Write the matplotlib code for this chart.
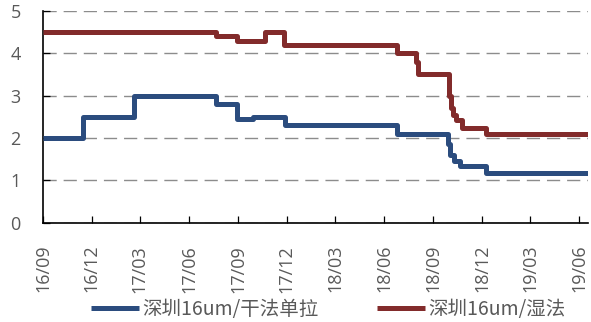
import matplotlib
matplotlib.use("Agg")
import matplotlib.pyplot as plt
import matplotlib.dates as mdates
import pandas as pd

# Price change points (date of change, new price); each level holds until the next change
dry_dates = ["2016-09-01", "2016-11-15", "2017-02-19", "2017-07-22", "2017-08-30",
             "2017-09-29", "2017-11-27", "2018-06-25", "2018-09-29", "2018-10-02",
             "2018-10-09", "2018-10-20", "2018-12-08", "2019-06-17"]
dry_values = [2.0, 2.5, 3.0, 2.8, 2.45, 2.5, 2.3, 2.1, 1.85, 1.6, 1.46, 1.34, 1.17, 1.17]

wet_dates = ["2016-09-01", "2017-07-22", "2017-08-30", "2017-10-21", "2017-11-26",
             "2018-06-25", "2018-07-30", "2018-08-03", "2018-09-30", "2018-10-03",
             "2018-10-07", "2018-10-13", "2018-10-25", "2018-12-08", "2019-06-17"]
wet_values = [4.5, 4.4, 4.3, 4.5, 4.2, 4.0, 3.8, 3.5, 3.0, 2.7, 2.55, 2.42, 2.23, 2.1, 2.1]

series_names = ["深圳16um/干法单拉", "深圳16um/湿法"]
series_colors = ["#2B4C7E", "#822B2B"]
tick_dates = pd.date_range("2016-09-01", "2019-06-01", freq="3MS")
y_ticks = [0, 1, 2, 3, 4, 5]

label_color = "#595959"

fig = plt.figure(figsize=(5.91, 3.22), dpi=100)
ax = fig.add_axes([43 / 591, 1 - 222.6 / 322, (588 - 43) / 591, (222.6 - 11) / 322])

for dates, values, name, color in [(dry_dates, dry_values, series_names[0], series_colors[0]),
                                   (wet_dates, wet_values, series_names[1], series_colors[1])]:
    ax.plot(pd.to_datetime(dates), values, drawstyle="steps-post", color=color,
            lw=3.6, label=name, solid_capstyle="butt", zorder=3)

ax.set_xlim(pd.Timestamp("2016-09-01"), pd.Timestamp("2019-06-17"))
ax.set_ylim(0, 5)
ax.set_yticks(y_ticks)
ax.set_xticks(tick_dates)
ax.xaxis.set_major_formatter(mdates.DateFormatter("%y/%m"))

for s in ["top", "right"]:
    ax.spines[s].set_visible(False)
for s in ["left", "bottom"]:
    ax.spines[s].set_color("black")
    ax.spines[s].set_linewidth(1.2)

ax.yaxis.grid(True, color="#8C8C8C", lw=1.0, linestyle=(0, (9.5, 5)), zorder=1)
ax.set_axisbelow(True)

ax.tick_params(axis="both", direction="in", length=5, width=0.9, color="black",
               labelcolor=label_color)
ax.tick_params(axis="y", pad=16, labelsize=13)
ax.tick_params(axis="x", pad=16, labelsize=13, labelrotation=90)
for lbl in ax.get_xticklabels() + ax.get_yticklabels():
    lbl.set_fontfamily(["Open Sans", "DejaVu Sans"])

leg = fig.legend(loc="center", bbox_to_anchor=(328 / 591, 1 - 309 / 322), ncol=2,
                 frameon=False, handlelength=2.5, handletextpad=0.15,
                 columnspacing=3.0, borderpad=0,
                 prop={"family": ["Noto Sans CJK SC", "DejaVu Sans"], "size": 14})
for t in leg.get_texts():
    t.set_color(label_color)

fig.savefig("out.png", dpi=100)
